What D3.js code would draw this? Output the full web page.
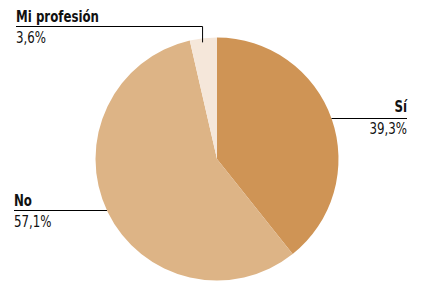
<!DOCTYPE html>
<html>
<head>
<meta charset="utf-8">
<script src="https://cdn.jsdelivr.net/npm/d3@7"></script>
<style>
  body { margin: 0; background: #fff; }
  text { font-family: "DejaVu Sans Condensed", "Liberation Sans Narrow", sans-serif; fill: #111; }
</style>
</head>
<body>
<script>
// data
const labels = ["Sí", "No", "Mi profesión"];
const values = [39.3, 57.1, 3.6];
const valueLabels = ["39,3%", "57,1%", "3,6%"];
const colors = ["#cf9455", "#ddb486", "#f5e7da"];

const width = 421, height = 291;
const cx = 217, cy = 159, radius = 121.5;
const fs = 16, sx = 0.82;

const svg = d3.select("body").append("svg")
    .attr("width", width)
    .attr("height", height);

const data = labels.map((l, i) => ({label: l, value: values[i], text: valueLabels[i], color: colors[i]}));

const pie = d3.pie().value(d => d.value).sort(null);
const arc = d3.arc().innerRadius(0).outerRadius(radius);
const arcs = pie(data);

const g = svg.append("g").attr("transform", `translate(${cx},${cy})`);
g.selectAll("path")
    .data(arcs)
    .enter()
    .append("path")
    .attr("d", arc)
    .attr("fill", d => d.data.color);

function rim(a, r) {
    return [cx + Math.sin(a) * r, cy - Math.cos(a) * r];
}

// condensed label: text squeezed horizontally around its anchor
function label(x, y, str, bold, anchor) {
    svg.append("text")
        .attr("transform", `translate(${x},${y}) scale(${sx},1)`)
        .attr("text-anchor", anchor || "start")
        .attr("font-weight", bold ? "bold" : "normal")
        .attr("font-size", fs)
        .text(str);
}

const lines = svg.append("g").attr("stroke", "#000").attr("stroke-width", 1).attr("fill", "none");

// Sí: label on the right
const siA = arcs[0];
const yS = 118.5;
const xS = cx + Math.sqrt(radius * radius - (cy - yS) * (cy - yS));
lines.append("line").attr("x1", xS).attr("y1", yS).attr("x2", 407).attr("y2", yS);
label(407, 111.5, siA.data.label, true, "end");
label(407, 133.5, siA.data.text, false, "end");

// No: label on the left
const noA = arcs[1];
const yN = 210.5;
const xN = cx - Math.sqrt(radius * radius - (cy - yN) * (cy - yN));
lines.append("line").attr("x1", 14).attr("y1", yN).attr("x2", xN).attr("y2", yN);
label(14, 205.5, noA.data.label, true);
label(14, 226.5, noA.data.text, false);

// Mi profesión: elbow line
const mpA = arcs[2];
const mid = (mpA.startAngle + mpA.endAngle) / 2;
const pMp = rim(mid - 0.01, radius - 4);
const yM = 26.5;
lines.append("path").attr("d", `M16,${yM}H${pMp[0]}V${pMp[1]}`);
label(16, 21.5, mpA.data.label, true);
label(16, 42.5, mpA.data.text, false);
</script>
</body>
</html>
